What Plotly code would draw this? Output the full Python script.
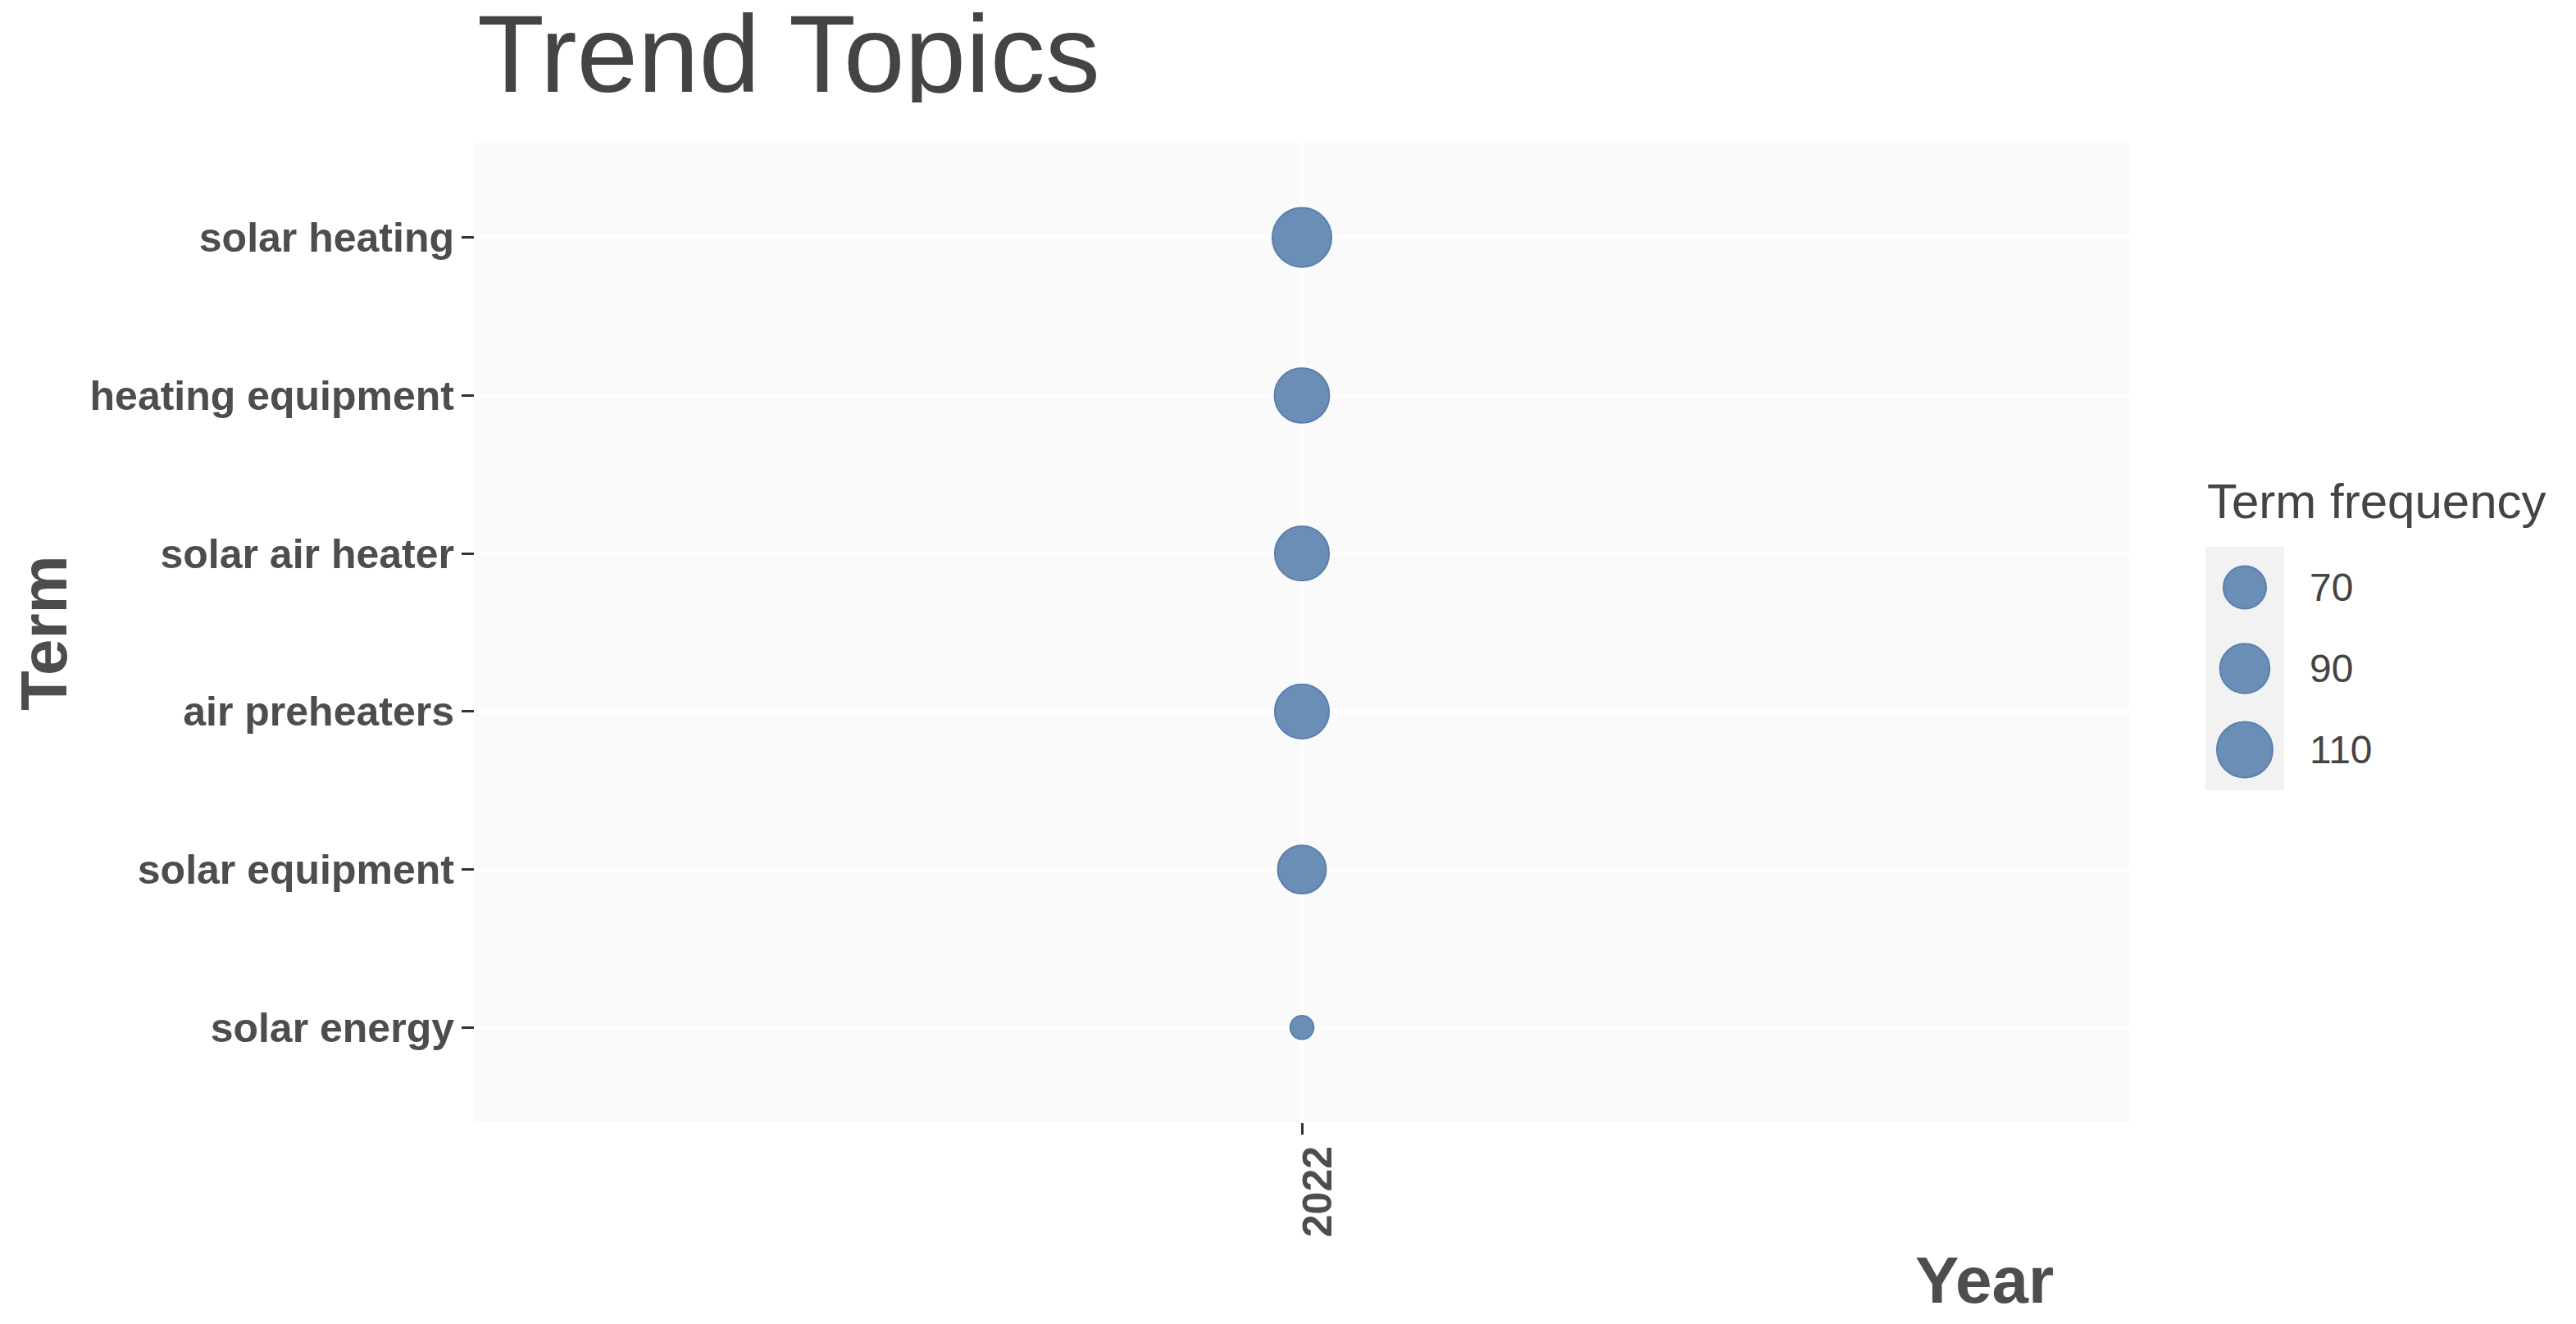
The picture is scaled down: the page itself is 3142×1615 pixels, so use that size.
import numpy as np
import plotly.graph_objects as go

W, H = 3142, 1615
OFF = 8  # page body margin
FW, FH = W - OFF, H - OFF

# data (top to bottom as shown)
TERMS = ["solar heating", "heating equipment", "solar air heater",
         "air preheaters", "solar equipment", "solar energy"]
FREQ = [122, 107, 105, 105, 86, 30]
YEARS = [2022, 2022, 2022, 2022, 2022, 2022]
LEGEND_BREAKS = [70, 90, 110]

FILL = "#6A8EB6"
EDGE = "#5A80AD"
FONT = "Liberation Sans, Arial, sans-serif"
TXT = "#4D4D4D"


def bubble_size(v):
    # area grows linearly with frequency (like ggplot scale_size)
    return np.sqrt(-556 + 49.6 * np.asarray(v, dtype=float)) - 2


def px_x(p):
    return (p - OFF) / FW


def px_y(p):
    return 1 - (p - OFF) / FH


fig = go.Figure()

fig.add_trace(go.Scatter(
    x=YEARS, y=TERMS, mode="markers",
    marker=dict(size=bubble_size(FREQ), color=FILL, opacity=1,
                line=dict(color=EDGE, width=2)),
    showlegend=False, xaxis="x", yaxis="y",
))

# size legend drawn on its own small axes
fig.add_trace(go.Scatter(
    x=[0] * len(LEGEND_BREAKS), y=list(range(len(LEGEND_BREAKS))), mode="markers",
    marker=dict(size=bubble_size(LEGEND_BREAKS), color=FILL, opacity=1,
                line=dict(color=EDGE, width=2)),
    showlegend=False, xaxis="x2", yaxis="y2", hoverinfo="skip",
))

order = TERMS[::-1]

fig.update_layout(
    width=FW, height=FH,
    margin=dict(l=0, r=0, t=0, b=0),
    paper_bgcolor="white",
    plot_bgcolor="#FAFAFA",
    font=dict(family=FONT, color=TXT),
    showlegend=False,
    xaxis=dict(
        domain=[px_x(579), px_x(2597)],
        range=[2021.4, 2022.6],
        tickvals=sorted(set(YEARS)),
        ticktext=[str(y) for y in sorted(set(YEARS))],
        tickangle=-90,
        tickfont=dict(size=50, color=TXT, weight="bold"),
        ticks="outside", ticklen=14, tickwidth=3, tickcolor="#333333",
        ticklabelstandoff=-6, ticklabelshift=20,
        showgrid=True, gridcolor="white", gridwidth=5,
        zeroline=False, showline=False,
    ),
    yaxis=dict(
        domain=[px_y(1369), px_y(174)],
        type="category",
        categoryorder="array", categoryarray=order,
        range=[-0.6, len(order) - 1 + 0.6],
        tickfont=dict(size=50, color=TXT, weight="bold"),
        ticks="outside", ticklen=15, tickwidth=3, tickcolor="#333333",
        ticklabelstandoff=-1,
        showgrid=True, gridcolor="white", gridwidth=5,
        zeroline=False, showline=False,
    ),
    xaxis2=dict(
        domain=[px_x(2690), px_x(2786)], anchor="y2",
        range=[-1, 1], visible=False, showgrid=False, zeroline=False,
    ),
    yaxis2=dict(
        domain=[px_y(964), px_y(667)], anchor="x2",
        range=[len(LEGEND_BREAKS) - 0.5, -0.5], visible=False,
        showgrid=False, zeroline=False,
    ),
    shapes=[dict(
        type="rect", xref="x2 domain", yref="y2 domain",
        x0=0, x1=1, y0=0, y1=1, fillcolor="#F2F2F2",
        line=dict(width=0), layer="below",
    )],
)

annotations = [
    dict(text="Trend Topics", xref="paper", yref="paper",
         x=px_x(580), y=px_y(65), xanchor="left", yanchor="middle",
         height=120, valign="middle",
         showarrow=False, font=dict(size=134, color="#444444")),
    dict(text="Term", xref="paper", yref="paper",
         x=px_x(53), y=px_y(772), xanchor="center", yanchor="middle",
         textangle=-90, showarrow=False,
         font=dict(size=80, color=TXT, weight="bold")),
    dict(text="Year", xref="paper", yref="paper",
         x=px_x(2507), y=px_y(1561), xanchor="right", yanchor="middle",
         showarrow=False, font=dict(size=80, color=TXT, weight="bold")),
    dict(text="Term frequency", xref="paper", yref="paper",
         x=px_x(2690), y=px_y(611), xanchor="left", yanchor="middle",
         showarrow=False, font=dict(size=60, color="#444444")),
]
for i, b in enumerate(LEGEND_BREAKS):
    annotations.append(dict(
        text=str(b), xref="paper", yref="y2", x=px_x(2815), y=i,
        xanchor="left", yanchor="middle", showarrow=False,
        font=dict(size=48, color="#444444"),
    ))
fig.update_layout(annotations=annotations)

fig.write_html("out.html")
